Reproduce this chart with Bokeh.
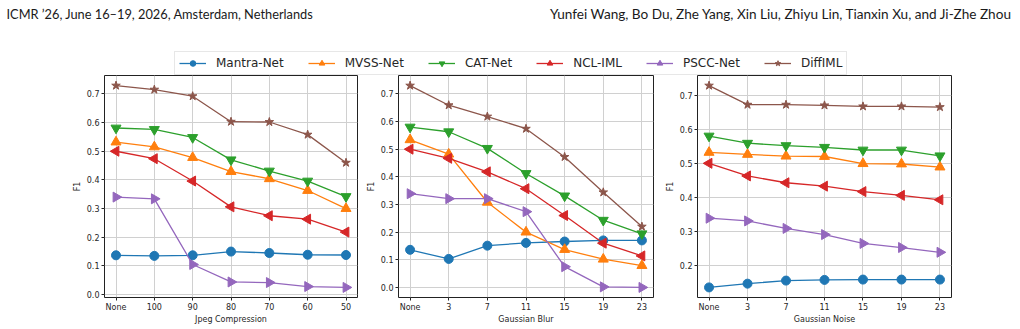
import math
from bokeh.plotting import figure
from bokeh.models import Range1d, FixedTicker, Legend, LegendItem, ColumnDataSource, PrintfTickFormatter
from bokeh.layouts import column, row
from bokeh.embed import file_html
from bokeh.resources import INLINE
from bokeh.core.properties import value

# ---------------- data ----------------
methods = ["Mantra-Net", "MVSS-Net", "CAT-Net", "NCL-IML", "PSCC-Net", "DiffIML"]

jpeg_labels = ["None", "100", "90", "80", "70", "60", "50"]
blur_labels = ["None", "3", "7", "11", "15", "19", "23"]
noise_labels = ["None", "3", "7", "11", "15", "19", "23"]

jpeg_mantra = [0.137, 0.135, 0.137, 0.150, 0.145, 0.139, 0.138]
jpeg_mvss = [0.532, 0.515, 0.478, 0.429, 0.404, 0.363, 0.300]
jpeg_cat = [0.581, 0.576, 0.548, 0.470, 0.431, 0.396, 0.342]
jpeg_ncl = [0.500, 0.474, 0.396, 0.306, 0.275, 0.263, 0.218]
jpeg_pscc = [0.340, 0.334, 0.105, 0.044, 0.042, 0.028, 0.025]
jpeg_diffiml = [0.729, 0.715, 0.692, 0.603, 0.602, 0.558, 0.460]

blur_mantra = [0.136, 0.103, 0.151, 0.161, 0.166, 0.170, 0.170]
blur_mvss = [0.534, 0.482, 0.308, 0.200, 0.137, 0.102, 0.079]
blur_cat = [0.580, 0.563, 0.503, 0.412, 0.331, 0.243, 0.194]
blur_ncl = [0.500, 0.467, 0.418, 0.357, 0.260, 0.160, 0.114]
blur_pscc = [0.339, 0.321, 0.321, 0.274, 0.075, 0.002, 0.000]
blur_diffiml = [0.730, 0.659, 0.618, 0.574, 0.472, 0.344, 0.220]

noise_mantra = [0.137, 0.148, 0.157, 0.159, 0.160, 0.160, 0.160]
noise_mvss = [0.533, 0.527, 0.522, 0.521, 0.500, 0.499, 0.490]
noise_cat = [0.581, 0.560, 0.553, 0.548, 0.540, 0.540, 0.523]
noise_ncl = [0.501, 0.464, 0.444, 0.434, 0.418, 0.407, 0.394]
noise_pscc = [0.340, 0.332, 0.310, 0.292, 0.266, 0.254, 0.240]
noise_diffiml = [0.729, 0.673, 0.673, 0.671, 0.668, 0.668, 0.666]

jpeg_ticks = [0.0, 0.1, 0.2, 0.3, 0.4, 0.5, 0.6, 0.7]
blur_ticks = [0.0, 0.1, 0.2, 0.3, 0.4, 0.5, 0.6, 0.7]
noise_ticks = [0.2, 0.3, 0.4, 0.5, 0.6, 0.7]

# ---------------- styles ----------------
colors = ["#1f77b4", "#ff7f0e", "#2ca02c", "#d62728", "#9467bd", "#8c564b"]
markers = ["circle", "triangle", "inverted_triangle", "triangle", "triangle", "star"]
angles = [0.0, 0.0, 0.0, math.pi / 2, -math.pi / 2, 0.0]
sizes = [9, 10, 10, 10, 10, 9]

TXT = "#262626"
FONT = "DejaVu Sans"


def panel(labels, series, xlabel, yticks, left, fw, right):
    allv = [v for s in series for v in s]
    lo, hi = min(allv), max(allv)
    pad = 0.05 * (hi - lo)
    n = len(labels)
    p = figure(frame_width=fw, frame_height=222,
               min_border_left=left, min_border_right=right,
               min_border_top=0, min_border_bottom=31,
               x_range=Range1d(-0.05 * (n - 1), (n - 1) * 1.05),
               y_range=Range1d(lo - pad, hi + pad),
               output_backend="svg", toolbar_location=None)
    p.background_fill_color = "white"
    p.border_fill_color = "white"
    p.outline_line_color = "#222222"
    p.outline_line_width = 1
    xs = list(range(n))
    for i, s in enumerate(series):
        src = ColumnDataSource(dict(x=xs, y=s))
        p.line("x", "y", source=src, line_color=colors[i], line_width=1.3)
        p.scatter("x", "y", source=src, marker=markers[i], angle=angles[i],
                  size=sizes[i], fill_color=colors[i], line_color=colors[i])
    p.xaxis.ticker = FixedTicker(ticks=xs)
    p.xaxis.major_label_overrides = {i: lab for i, lab in enumerate(labels)}
    p.yaxis.ticker = FixedTicker(ticks=yticks)
    p.yaxis.formatter = PrintfTickFormatter(format="%.1f")
    p.xaxis.axis_label = xlabel
    p.yaxis.axis_label = "F1"
    for ax in (p.xaxis[0], p.yaxis[0]):
        ax.axis_line_color = None
        ax.major_tick_out = 3
        ax.major_tick_in = 0
        ax.major_tick_line_color = TXT
        ax.minor_tick_line_color = None
        ax.major_label_text_font = FONT
        ax.major_label_text_font_size = "8px"
        ax.major_label_text_color = TXT
        ax.major_label_standoff = 2
        ax.axis_label_text_font = FONT
        ax.axis_label_text_font_size = "8px"
        ax.axis_label_text_font_style = "normal"
        ax.axis_label_text_color = TXT
    p.xaxis.axis_label_standoff = 0
    p.yaxis.axis_label_standoff = 2
    p.grid.grid_line_color = "#d0d0d0"
    p.grid.grid_line_width = 1
    return p


jpeg_series = [jpeg_mantra, jpeg_mvss, jpeg_cat, jpeg_ncl, jpeg_pscc, jpeg_diffiml]
blur_series = [blur_mantra, blur_mvss, blur_cat, blur_ncl, blur_pscc, blur_diffiml]
noise_series = [noise_mantra, noise_mvss, noise_cat, noise_ncl, noise_pscc, noise_diffiml]

p1 = panel(jpeg_labels, jpeg_series, "Jpeg Compression", jpeg_ticks, 104, 253, 5)
p2 = panel(blur_labels, blur_series, "Gaussian Blur", blur_ticks, 36, 255, 9)
p3 = panel(noise_labels, noise_series, "Gaussian Noise", noise_ticks, 30, 254, 74)

# ---------------- header with running heads and legend ----------------
h = figure(width=1020, height=75, x_range=Range1d(0, 1020), y_range=Range1d(75, 0),
           x_axis_type=None, y_axis_type=None, min_border=0,
           output_backend="svg", toolbar_location=None)
h.grid.visible = False
h.outline_line_color = None
# a range far away from the visible area: the legend's proxy renderers live there
h.extra_x_ranges = {"proxy": Range1d(1000, 1001)}
h.extra_y_ranges = {"proxy": Range1d(1000, 1001)}

h.text(x=[6], y=[13], text=["ICMR \u201926, June 16\u201319, 2026, Amsterdam, Netherlands"],
       text_font=value("Lato"), text_font_size="12.8px", text_baseline="alphabetic",
       text_align="left", text_color="#1a1a1a")
h.text(x=[1012], y=[13], text=["Yunfei Wang, Bo Du, Zhe Yang, Xin Liu, Zhiyu Lin, Tianxin Xu, and Ji-Zhe Zhou"],
       text_font=value("Lato"), text_font_size="13.6px", text_baseline="alphabetic",
       text_align="right", text_color="#1a1a1a")

items = []
for i, name in enumerate(methods):
    src = ColumnDataSource(dict(x=list(range(len(jpeg_labels))), y=jpeg_series[i]))
    lr = h.line("x", "y", source=src, line_color=colors[i], line_width=1.3,
                x_range_name="proxy", y_range_name="proxy")
    sr = h.scatter("x", "y", source=src, marker=markers[i], angle=angles[i],
                   size=sizes[i] - 2, fill_color=colors[i], line_color=colors[i],
                   x_range_name="proxy", y_range_name="proxy")
    items.append(LegendItem(label=name, renderers=[lr, sr]))

leg = Legend(items=items, orientation="horizontal", location=(174, 0),
             margin=0, padding=4, spacing=24, glyph_width=27, glyph_height=14,
             label_height=14, label_standoff=10,
             label_text_font=FONT, label_text_font_size="12px", label_text_color=TXT,
             border_line_color="#d0d0d0", border_line_width=1,
             background_fill_color="white", background_fill_alpha=1)
h.add_layout(leg)

layout = column(h, row(p1, p2, p3, spacing=0), spacing=0)

open("out.html", "w").write(file_html(layout, INLINE))
